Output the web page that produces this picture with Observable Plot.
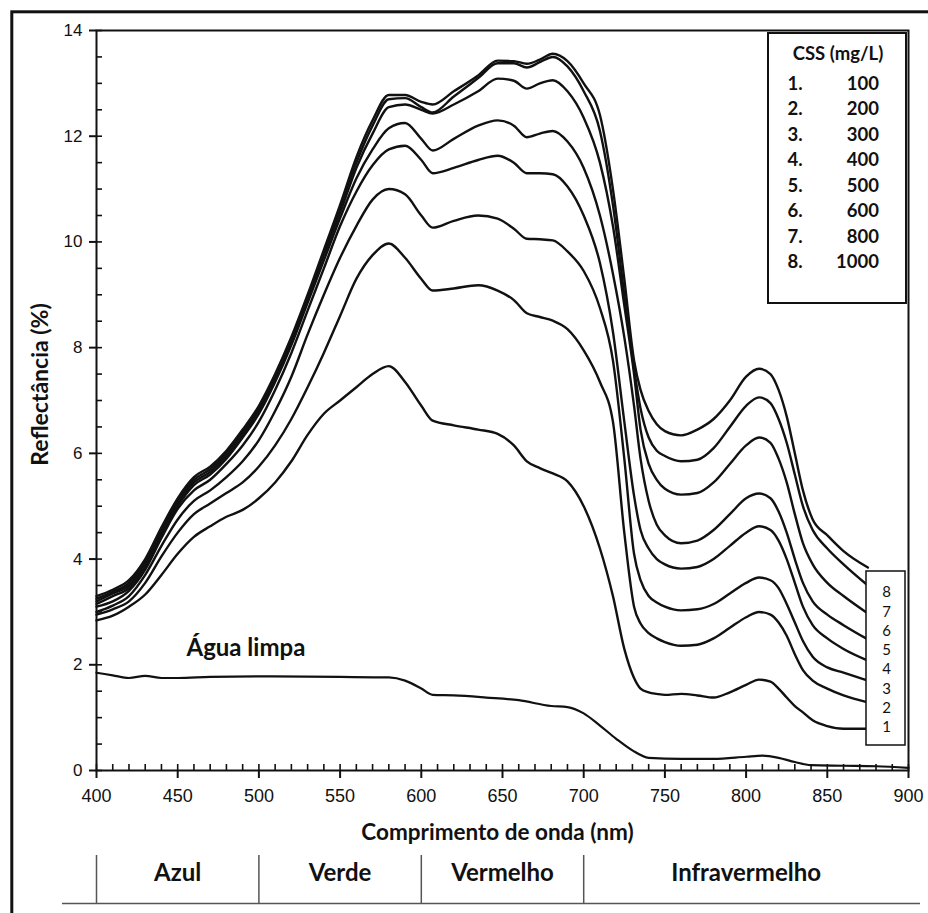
<!DOCTYPE html>
<html><head><meta charset="utf-8">
<script src="https://cdn.jsdelivr.net/npm/d3@7"></script>
<script src="https://cdn.jsdelivr.net/npm/@observablehq/plot@0.6"></script>
<style>html,body{margin:0;padding:0;background:#fff}</style>
</head><body><div id="chart"></div>
<script>
// ---------- data ----------
const wavelengths = [400,410,420,430,440,450,460,470,480,490,500,510,520,530,540,550,560,570,580,590,
  600,607,620,635,647,657,665,673,681,690,
  700,710,718,725,731,735,740,745,750,
  760,770,780,790,800,808,815,820,825,830,835,841,850,860,875];

const css100 = [2.84,2.93,3.1,3.33,3.7,4.1,4.42,4.62,4.8,4.93,5.15,5.45,5.85,6.35,6.75,7.0,7.25,7.5,7.65,7.35,
  6.9,6.62,6.53,6.45,6.37,6.15,5.85,5.72,5.62,5.47,
  5.0,4.2,3.3,2.3,1.75,1.55,1.48,1.45,1.43,
  1.45,1.42,1.38,1.48,1.62,1.72,1.68,1.55,1.38,1.22,1.1,0.95,0.84,0.79,0.79];
const css200 = [2.95,3.05,3.2,3.55,4.05,4.5,4.85,5.05,5.25,5.45,5.75,6.15,6.65,7.25,7.9,8.6,9.3,9.75,9.97,9.7,
  9.3,9.08,9.12,9.18,9.08,8.9,8.65,8.58,8.51,8.35,
  7.95,7.35,6.6,4.5,3.1,2.78,2.6,2.5,2.43,
  2.36,2.38,2.5,2.7,2.9,3.0,2.95,2.8,2.55,2.2,1.9,1.7,1.55,1.42,1.29];
const css300 = [3.0,3.12,3.3,3.7,4.25,4.75,5.1,5.3,5.55,5.85,6.25,6.8,7.45,8.25,9.0,9.7,10.3,10.8,11.0,10.9,
  10.5,10.27,10.4,10.5,10.44,10.25,10.06,10.05,10.03,9.82,
  9.45,8.75,7.76,5.9,4.1,3.6,3.3,3.18,3.1,
  3.03,3.05,3.15,3.35,3.55,3.65,3.6,3.45,3.15,2.8,2.45,2.15,1.95,1.85,1.7];
const css400 = [3.1,3.2,3.4,3.8,4.4,4.95,5.3,5.5,5.8,6.15,6.6,7.2,7.9,8.7,9.5,10.3,10.95,11.45,11.75,11.82,
  11.55,11.3,11.4,11.55,11.63,11.5,11.3,11.3,11.28,11.05,
  10.5,9.6,8.3,6.6,5.2,4.55,4.2,4.0,3.9,
  3.82,3.85,4.0,4.25,4.5,4.62,4.55,4.35,4.0,3.55,3.1,2.75,2.5,2.3,2.08];
const css500 = [3.15,3.3,3.45,3.85,4.45,5.0,5.4,5.6,5.9,6.3,6.75,7.35,8.05,8.85,9.65,10.45,11.2,11.75,12.15,12.25,
  11.95,11.73,11.95,12.2,12.3,12.2,11.98,12.05,12.1,11.9,
  11.4,10.5,9.4,8.2,6.9,5.9,5.1,4.65,4.45,
  4.3,4.35,4.55,4.85,5.15,5.24,5.15,4.9,4.5,4.0,3.55,3.2,2.95,2.75,2.48];
const css600 = [3.2,3.35,3.5,3.9,4.5,5.05,5.45,5.65,5.95,6.35,6.8,7.4,8.1,8.9,9.75,10.55,11.4,12.05,12.55,12.6,
  12.5,12.43,12.6,12.85,13.09,13.05,12.9,13.0,13.06,12.85,
  12.35,11.5,10.3,8.8,7.5,6.45,5.8,5.5,5.33,
  5.22,5.25,5.45,5.8,6.15,6.3,6.2,5.9,5.45,4.85,4.3,3.9,3.55,3.3,2.97];
const css800 = [3.25,3.38,3.55,3.95,4.55,5.1,5.5,5.7,6.0,6.4,6.85,7.45,8.15,8.95,9.8,10.65,11.5,12.2,12.7,12.72,
  12.55,12.45,12.75,13.1,13.38,13.38,13.3,13.4,13.5,13.32,
  12.85,12.1,10.7,9.0,7.6,6.85,6.3,6.05,5.95,
  5.85,5.88,6.1,6.5,6.9,7.06,6.95,6.65,6.2,5.6,5.0,4.55,4.2,3.9,3.5];
const css1000 = [3.3,3.42,3.6,4.0,4.6,5.15,5.55,5.75,6.05,6.45,6.9,7.5,8.2,9.0,9.85,10.7,11.6,12.3,12.78,12.78,
  12.65,12.6,12.85,13.15,13.43,13.42,13.37,13.45,13.56,13.42,
  13.0,12.4,11.0,9.3,7.76,7.2,6.8,6.55,6.42,
  6.34,6.45,6.65,7.0,7.45,7.6,7.5,7.2,6.7,6.0,5.3,4.75,4.45,4.15,3.84];

const cssLevels = [100,200,300,400,500,600,800,1000];
const cssNumbers = ["1.","2.","3.","4.","5.","6.","7.","8."];
const curveIds = ["8","7","6","5","4","3","2","1"];

const waterWl = [400,410,420,430,440,450,470,500,550,580,590,600,607,620,640,660,680,690,700,710,720,730,740,760,780,800,810,820,830,840,860,880,900];
const waterRefl = [1.85,1.8,1.75,1.79,1.75,1.75,1.77,1.78,1.77,1.76,1.7,1.55,1.43,1.42,1.38,1.33,1.22,1.2,1.08,0.85,0.6,0.38,0.24,0.22,0.22,0.26,0.28,0.24,0.16,0.1,0.09,0.08,0.05];

const bandNames = ["Azul","Verde","Vermelho","Infravermelho"];
const bandStarts = [400,500,600,700];
const bandEnds = [500,600,700,900];

const xTicks = [400,450,500,550,600,650,700,750,800,850,900];
const xMinor = d3.range(400, 901, 10);
const yTicks = [0,2,4,6,8,10,12,14];
const yMinor = d3.range(0, 14.01, 0.5);

const waterLabel = [{text: "Água limpa", x: 492, y: 2.31}];

// ---------- build ----------
const seriesList = [css100, css200, css300, css400, css500, css600, css800, css1000];
const rows = [];
seriesList.forEach((vals, i) => vals.forEach((v, j) => rows.push({wl: wavelengths[j], r: v, css: cssLevels[i]})));
const waterRows = waterWl.map((w, i) => ({wl: w, r: waterRefl[i]}));
const bands = bandNames.map((n, i) => ({name: n, start: bandStarts[i], end: bandEnds[i]}));

const calibri = "Lato, 'Open Sans', sans-serif";
const arial = "'Liberation Sans', Arial, sans-serif";

const chart = Plot.plot({
  width: 928, height: 913,
  marginLeft: 96, marginRight: 20, marginTop: 30, marginBottom: 143,
  x: {domain: [400, 900]},
  y: {domain: [0, 14]},
  style: {background: "#fff", color: "#111", fontFamily: arial},
  marks: [
    // outer picture frame
    Plot.frame({stroke: "#111", strokeWidth: 3, insetLeft: -84.7, insetTop: -18.7, insetRight: -40, insetBottom: -160}),
    // plot frame
    Plot.frame({stroke: "#111", strokeWidth: 2}),
    // inward minor ticks (short rules hugging the bottom and left axes)
    Plot.ruleX(xMinor, {x: d => d, insetTop: 734, stroke: "#111", strokeWidth: 1.6}),
    Plot.ruleY(yMinor, {y: d => d, insetRight: 806, stroke: "#111", strokeWidth: 1.6}),
    // outward major ticks + labels
    Plot.axisX({ticks: xTicks, tickSize: 8, tickPadding: 11, fontSize: 18, label: null, strokeWidth: 2}),
    Plot.axisY({ticks: yTicks, tickSize: 7, tickPadding: 7, fontSize: 17, label: null, strokeWidth: 2}),
    // curves
    Plot.line(rows, {x: "wl", y: "r", z: "css", stroke: "#111", strokeWidth: 2.4, curve: "monotone-x"}),
    Plot.line(waterRows, {x: "wl", y: "r", stroke: "#111", strokeWidth: 2.2, curve: "monotone-x"}),
    Plot.text(waterLabel, {x: "x", y: "y", text: "text", fontSize: 24, fontWeight: "bold", fontFamily: calibri, fill: "#111"}),
    // axis titles
    Plot.text(["Reflectância (%)"], {frameAnchor: "left", textAnchor: "middle", lineAnchor: "middle", dx: -56, dy: -16, rotate: -90, fontSize: 23, fontWeight: "bold", fontFamily: calibri, fill: "#111"}),
    Plot.text(["Comprimento de onda (nm)"], {frameAnchor: "bottom", textAnchor: "middle", lineAnchor: "middle", dx: -5, dy: 62, fontSize: 22.5, fontWeight: "bold", fontFamily: calibri, fill: "#111"}),
    // spectral band table
    Plot.ruleX(bandStarts, {x: d => d, stroke: "#555", strokeWidth: 1.5, insetTop: 825, insetBottom: -133}),
    Plot.ruleY([0], {dy: 133, insetLeft: -34, insetRight: -12, stroke: "#555", strokeWidth: 1.5}),
    Plot.text(bands, {x: d => (d.start + d.end) / 2, frameAnchor: "bottom", textAnchor: "middle", lineAnchor: "middle", dy: 103, text: "name", fontSize: 24, fontWeight: "bold", fontFamily: calibri, fill: "#111"})
  ]
});

const svg = d3.select(chart);
// legend box
const lg = svg.append("g").attr("font-family", calibri).attr("fill", "#111");
lg.append("rect").attr("x", 768).attr("y", 33).attr("width", 138).attr("height", 270)
  .attr("fill", "#fff").attr("stroke", "#111").attr("stroke-width", 2);
lg.append("text").attr("x", 838).attr("y", 60).attr("text-anchor", "middle")
  .attr("font-size", 18.5).attr("font-weight", "bold").text("CSS (mg/L)");
cssLevels.forEach((v, i) => {
  const y = 89.5 + i * 25.5;
  lg.append("text").attr("x", 795).attr("y", y).attr("font-size", 18.5).attr("font-weight", "bold").text(cssNumbers[i]);
  lg.append("text").attr("x", 879).attr("y", y).attr("text-anchor", "end").attr("font-size", 18.5).attr("font-weight", "bold").text(v);
});
// curve number box
const cb = svg.append("g").attr("font-family", calibri).attr("fill", "#111");
cb.append("rect").attr("x", 866).attr("y", 571).attr("width", 39).attr("height", 174)
  .attr("fill", "#fff").attr("stroke", "#111").attr("stroke-width", 1.5);
curveIds.forEach((t, i) => {
  cb.append("text").attr("x", 886.5).attr("y", 592 + i * 19.3).attr("dy", "0.35em")
    .attr("text-anchor", "middle").attr("font-size", 15).text(t);
});

document.getElementById("chart").appendChild(chart);
</script>
</body></html>
